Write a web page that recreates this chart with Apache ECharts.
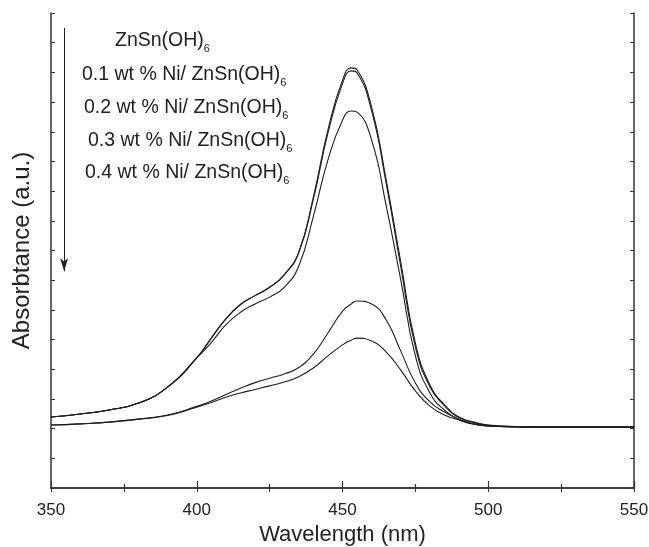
<!DOCTYPE html>
<html>
<head>
<meta charset="utf-8">
<script src="https://cdn.jsdelivr.net/npm/echarts@6/dist/echarts.min.js"></script>
<style>
  html, body { margin: 0; padding: 0; background: #fff; }
  #chart { width: 649px; height: 547px; }
</style>
</head>
<body>
<div id="chart"></div>
<script>
// wavelength grid (nm)
const wavelengths = [350, 360, 370, 380, 390, 400, 405, 410, 415, 420, 425, 430, 435, 440, 445, 450, 453,
  455, 460, 465, 470, 475, 480, 485, 490, 495, 500, 510, 520, 530, 540, 550];

// absorbance values (a.u.)
const absPure = [2.39, 2.49, 2.63, 2.86, 3.40, 4.38, 5.05, 5.70, 6.18, 6.48, 6.76, 7.18, 7.95, 9.80, 12.06, 13.74, 14.15,
  14.08, 12.83, 10.37, 7.61, 4.88, 3.47, 2.80, 2.39, 2.22, 2.12, 2.07, 2.05, 2.05, 2.05, 2.05];
const absNi01 = [2.39, 2.49, 2.63, 2.86, 3.40, 4.38, 5.05, 5.70, 6.18, 6.48, 6.76, 7.18, 7.93, 9.73, 11.95, 13.62, 14.05,
  13.98, 12.70, 10.25, 7.45, 4.75, 3.40, 2.77, 2.37, 2.21, 2.11, 2.07, 2.05, 2.05, 2.05, 2.05];
const absNi02 = [2.39, 2.49, 2.63, 2.86, 3.40, 4.38, 4.90, 5.50, 5.92, 6.20, 6.43, 6.76, 7.48, 9.15, 11.05, 12.39, 12.70,
  12.66, 11.72, 9.50, 7.00, 4.45, 3.20, 2.62, 2.30, 2.15, 2.09, 2.06, 2.05, 2.05, 2.05, 2.05];
const absNi03 = [2.12, 2.16, 2.22, 2.32, 2.46, 2.75, 2.93, 3.15, 3.36, 3.55, 3.70, 3.84, 4.06, 4.51, 5.22, 5.96, 6.20,
  6.30, 6.20, 5.66, 4.61, 3.54, 2.90, 2.56, 2.32, 2.16, 2.09, 2.06, 2.05, 2.05, 2.05, 2.05];
const absNi04 = [2.12, 2.16, 2.22, 2.32, 2.44, 2.72, 2.88, 3.06, 3.20, 3.32, 3.44, 3.57, 3.75, 4.04, 4.45, 4.82, 4.98,
  5.05, 4.95, 4.58, 3.97, 3.27, 2.76, 2.46, 2.29, 2.16, 2.09, 2.06, 2.05, 2.05, 2.05, 2.05];

const sampleNames = ["ZnSn(OH)", "0.1 wt % Ni/ ZnSn(OH)", "0.2 wt % Ni/ ZnSn(OH)",
  "0.3 wt % Ni/ ZnSn(OH)", "0.4 wt % Ni/ ZnSn(OH)"];
const allSeries = [absPure, absNi01, absNi02, absNi03, absNi04];

// arrow from top to bottom of the list (data coords)
const arrowX = 354.5;
const arrowFrom = 15.5;
const arrowTo = 7.3;

const lineColor = "#1e1e1e";
const axisColor = "#333";
const font = "Liberation Sans, Arial, sans-serif";

const series = allSeries.map((vals, i) => ({
  name: sampleNames[i],
  type: "line",
  smooth: 0.5,
  showSymbol: false,
  lineStyle: { color: lineColor, width: 1.1 },
  data: wavelengths.map((w, k) => [w, vals[k]]),
  z: 3
}));

series[0].markLine = {
  silent: true,
  symbol: ["none", "arrow"],
  symbolSize: [6, 13],
  label: { show: false },
  lineStyle: { color: "#222", width: 1, type: "solid" },
  data: [[{ coord: [arrowX, arrowFrom] }, { coord: [arrowX, arrowTo] }]]
};

// list of sample names (text annotation in the plot)
const labelPos = [[115, 43], [82, 77], [84, 110], [88, 143], [85, 175]];
const graphics = sampleNames.map((n, i) => ({
  type: "text",
  left: labelPos[i][0],
  top: labelPos[i][1] - 12,
  style: {
    text: "{a|" + n + "}{s|6}",
    rich: {
      a: { fontSize: 19.5, fontFamily: font, fill: "#222" },
      s: { fontSize: 11, fontFamily: font, fill: "#222", padding: [15, 0, 0, 0] }
    }
  }
}));

const chart = echarts.init(document.getElementById("chart"));
chart.setOption({
  animation: false,
  backgroundColor: "#fff",
  grid: { left: 51, right: 15, top: 13, bottom: 59, containLabel: false, outerBoundsMode: "none" },
  xAxis: [
    {
      type: "value",
      min: 350,
      max: 550,
      interval: 50,
      name: "Wavelength (nm)",
      nameLocation: "middle",
      nameGap: 36,
      nameTextStyle: { fontSize: 22, fontFamily: font, color: "#222" },
      axisLine: { lineStyle: { color: axisColor, width: 1.5 } },
      axisTick: { inside: true, length: 7, lineStyle: { color: axisColor, width: 1.2 } },
      minorTick: { show: true, splitNumber: 2, length: 4, lineStyle: { color: axisColor, width: 1.2 } },
      axisLabel: { fontSize: 17, fontFamily: font, color: "#222", margin: 14 },
      splitLine: { show: false }
    },
    {
      type: "value",
      position: "top",
      min: 350,
      max: 550,
      interval: 25,
      axisLine: { lineStyle: { color: axisColor, width: 1.5 } },
      axisTick: { inside: true, length: 4, lineStyle: { color: axisColor } },
      axisLabel: { show: false },
      splitLine: { show: false }
    }
  ],
  yAxis: [
    {
      type: "value",
      min: 0,
      max: 16,
      interval: 1,
      name: "Absorbtance (a.u.)",
      nameLocation: "middle",
      nameGap: 17,
      nameTextStyle: { fontSize: 24, fontFamily: font, color: "#222" },
      axisLine: { show: true, lineStyle: { color: axisColor, width: 1.5 } },
      axisTick: { show: true, inside: true, length: 4, lineStyle: { color: axisColor } },
      axisLabel: { show: false },
      splitLine: { show: false }
    },
    {
      type: "value",
      position: "right",
      min: 0,
      max: 16,
      interval: 1,
      axisLine: { show: true, lineStyle: { color: axisColor, width: 1.5 } },
      axisTick: { show: true, inside: true, length: 4, lineStyle: { color: axisColor } },
      axisLabel: { show: false },
      splitLine: { show: false }
    }
  ],
  graphic: graphics,
  series: series
});
</script>
</body>
</html>
